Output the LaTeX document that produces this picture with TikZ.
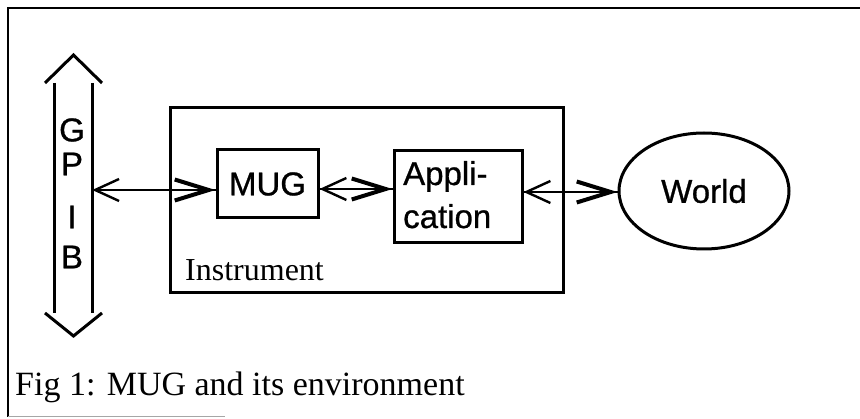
\documentclass[tikz,border=0pt]{standalone}
\usepackage{fontspec}
\setmainfont{Liberation Serif}
\newfontfamily\sansfnt[FakeBold=0.8]{Liberation Sans}
\usetikzlibrary{arrows.meta,shapes.geometric}
\tikzset{
  boxnode/.style={draw, line width=3pt, inner sep=0pt},
  sanstext/.style={font=\sansfnt\fontsize{33}{43}\selectfont},
  serftext/.style={font=\fontsize{32}{38}\selectfont, inner sep=0pt},
  shaft/.style={line width=2.4pt},
  link/.style={line width=2.4pt, {Straight Barb[length=24pt,width=22pt,line width=2.4pt]}-{Straight Barb[length=34pt,width=21pt,line width=4pt]}},
}
\begin{document}
\begin{tikzpicture}[x=1pt,y=-1pt]
\useasboundingbox (0,0) rectangle (860,419);
% outer frame
\draw[line width=2.4pt] (860,8) -- (8,8) -- (8,417);
\draw[line width=1.5pt, black!35] (8,416.5) -- (225,416.5);
% GPIB bus
\node[minimum width=37pt, minimum height=230pt, inner sep=0pt] (gpib) at (73.5,198) {};
\draw[line width=3pt] (gpib.north west) -- (gpib.south west);
\draw[line width=3pt] (gpib.north east) -- (gpib.south east);
\draw[line width=3pt, line join=miter] (45,83) -- (73.5,55) -- (102,83);
\draw[line width=3pt, line join=miter] (45,313) -- (73.5,336) -- (102,313);
\node[sanstext, inner sep=0pt] (g) at (72,130) {G};
\node[sanstext, inner sep=0pt] (p) at (72,164) {P};
\node[sanstext, inner sep=0pt] (i) at (72,217) {I};
\node[sanstext, inner sep=0pt] (b) at (72,257) {B};
% instrument
\node[boxnode, minimum width=393pt, minimum height=185pt] (instr) at (366.5,200.5) {};
\node[serftext, anchor=base west] (instrlbl) at (185,281) {Instrument};
% MUG
\node[boxnode, sanstext, minimum width=101pt, minimum height=68pt] (mug) at (267.5,184) {MUG};
% Application
\node[boxnode, minimum width=128pt, minimum height=92pt] (app) at (458,197) {};
\node[sanstext, anchor=base west, inner sep=0pt] (app1) at (403,185) {Appli-};
\node[sanstext, anchor=base west, inner sep=0pt] (app2) at (403,228) {cation};
% World
\node[ellipse, draw, line width=3pt, minimum width=170pt, minimum height=116pt, inner sep=0pt, sanstext] (world) at (704,191) {World};
% connectors
\coordinate (y1) at (0,190);
\coordinate (y2) at (0,189);
\coordinate (y3) at (0,192);
\draw[shaft] (gpib.east |- y1) -- (mug.west |- y1);
\draw[link] (gpib.east |- y1) -- (mug.west |- y1);
\draw[shaft] (mug.east |- y2) -- (app.west |- y2);
\draw[link] (mug.east |- y2) -- (app.west |- y2);
\draw[shaft] (app.east |- y3) -- (world.west |- y3);
\draw[link] (app.east |- y3) -- (world.west |- y3);
% caption
\node[font=\fontsize{34}{40}\selectfont, inner sep=0pt, anchor=base west] (cap) at (15,396) {Fig 1: MUG and its environment};
\end{tikzpicture}
\end{document}
